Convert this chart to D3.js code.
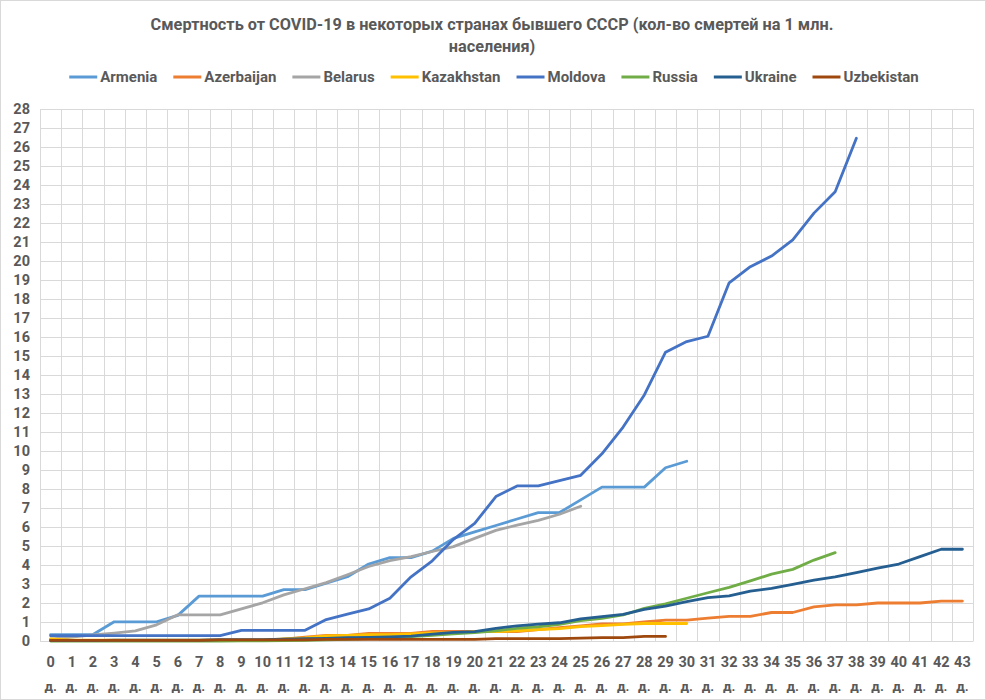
<!DOCTYPE html>
<html>
<head>
<meta charset="utf-8">
<script src="https://cdn.jsdelivr.net/npm/d3@7"></script>
<style>
  html, body { margin: 0; padding: 0; background: #fff; }
  svg { display: block; }
  text { font-family: Roboto, "Liberation Sans", sans-serif; }
</style>
</head>
<body>
<svg id="chart" width="986" height="700"></svg>
<script>
// ---------- data ----------
const titleLines = ["Смертность от COVID-19 в некоторых странах бывшего СССР (кол-во смертей на 1 млн.", "населения)"];
const categories = d3.range(0, 44).map(String);
const dayLabel = "д.";
const yTicks = d3.range(0, 29);

const seriesNames = ["Armenia", "Azerbaijan", "Belarus", "Kazakhstan", "Moldova", "Russia", "Ukraine", "Uzbekistan"];
const seriesColors = ["#5B9BD5", "#ED7D31", "#A5A5A5", "#FFC000", "#4472C4", "#70AD47", "#255E91", "#9E480E"];

const armenia = [0.34,0.34,0.34,1.01,1.01,1.01,1.35,2.36,2.36,2.36,2.36,2.7,2.7,3.04,3.38,4.05,4.39,4.39,4.73,5.4,5.74,6.08,6.42,6.76,6.76,7.43,8.1,8.1,8.1,9.12,9.46];
const azerbaijan = [0.1,0.02,0.02,0.02,0.02,0.02,0.02,0.02,0.02,0.02,0.02,0.1,0.2,0.3,0.3,0.4,0.4,0.4,0.5,0.5,0.5,0.5,0.5,0.6,0.7,0.8,0.9,0.9,1.0,1.1,1.1,1.2,1.3,1.3,1.5,1.5,1.8,1.9,1.9,2.0,2.0,2.0,2.1,2.1];
const belarus = [0.1,0.21,0.32,0.42,0.53,0.85,1.38,1.38,1.38,1.69,2.01,2.43,2.75,3.07,3.49,3.92,4.23,4.44,4.71,4.97,5.4,5.82,6.1,6.35,6.67,7.09];
const kazakhstan = [0.11,0.05,0.05,0.05,0.05,0.05,0.05,0.05,0.05,0.05,0.05,0.11,0.16,0.27,0.3,0.33,0.33,0.38,0.43,0.43,0.49,0.49,0.54,0.6,0.65,0.76,0.81,0.87,0.92,0.92,0.92];
const moldova = [0.28,0.28,0.28,0.28,0.28,0.28,0.28,0.28,0.28,0.56,0.56,0.56,0.56,1.13,1.41,1.69,2.25,3.38,4.22,5.35,6.19,7.6,8.16,8.16,8.44,8.72,9.85,11.26,12.95,15.2,15.76,16.04,18.85,19.7,20.26,21.11,22.52,23.65,26.46];
const russia = [0,0,0,0,0,0,0,0,0,0.01,0.01,0.02,0.03,0.06,0.09,0.12,0.17,0.23,0.3,0.37,0.44,0.54,0.67,0.75,0.88,1.07,1.19,1.37,1.72,1.95,2.25,2.54,2.82,3.16,3.52,3.77,4.26,4.65];
const ukraine = [0.02,0.02,0.02,0.05,0.05,0.05,0.05,0.05,0.07,0.07,0.07,0.1,0.12,0.14,0.17,0.19,0.22,0.26,0.36,0.45,0.49,0.67,0.8,0.89,0.96,1.16,1.28,1.4,1.67,1.84,2.07,2.28,2.37,2.63,2.77,2.98,3.2,3.38,3.6,3.83,4.05,4.44,4.83,4.83];
const uzbekistan = [0.03,0.03,0.03,0.03,0.03,0.03,0.03,0.03,0.06,0.06,0.06,0.06,0.06,0.09,0.09,0.09,0.09,0.09,0.09,0.09,0.09,0.12,0.12,0.12,0.12,0.15,0.18,0.18,0.24,0.24];

const seriesValues = [armenia, azerbaijan, belarus, kazakhstan, moldova, russia, ukraine, uzbekistan];

// ---------- layout ----------
const W = 986, H = 700;
const plot = { left: 40, right: 973, top: 109, bottom: 641 };
const textColor = "#595959";
const gridColor = "#D9D9D9";

const svg = d3.select("#chart");

svg.append("rect")
  .attr("x", 0.5).attr("y", 0.5)
  .attr("width", W - 1).attr("height", H - 1)
  .attr("fill", "#fff").attr("stroke", gridColor);

// title
const title = svg.append("text")
  .attr("text-anchor", "middle")
  .attr("fill", textColor)
  .attr("font-weight", "bold")
  .attr("font-size", 16.3);
titleLines.forEach((t, i) => {
  title.append("tspan").attr("x", W / 2 - 1).attr("y", 30 + i * 22).text(t);
});

// scales
const x = d3.scaleBand().domain(categories).range([plot.left, plot.right]).padding(0);
const y = d3.scaleLinear().domain([0, 28]).range([plot.bottom, plot.top]);
const cx = c => x(c) + x.bandwidth() / 2;

// y axis with gridlines
const yAxis = svg.append("g")
  .attr("transform", `translate(${plot.left},0)`)
  .call(d3.axisLeft(y).tickValues(yTicks).tickSize(-(plot.right - plot.left)).tickPadding(10).tickFormat(d3.format("d")));
yAxis.select(".domain").remove();
yAxis.selectAll(".tick line").attr("stroke", gridColor).attr("stroke-width", 1);
yAxis.selectAll(".tick text")
  .attr("fill", textColor).attr("font-weight", "bold").attr("font-size", 14.5)
  .attr("font-family", "Roboto, 'Liberation Sans', sans-serif");

// vertical gridlines at category boundaries
const boundaries = categories.map(c => x(c)).concat([x(categories[categories.length - 1]) + x.bandwidth()]);
svg.append("g").selectAll("line").data(boundaries).join("line")
  .attr("x1", d => Math.round(d) + 0.5).attr("x2", d => Math.round(d) + 0.5)
  .attr("y1", plot.top).attr("y2", plot.bottom)
  .attr("stroke", gridColor).attr("stroke-width", 1);

// x axis labels
const xAxis = svg.append("g")
  .attr("transform", `translate(0,${plot.bottom})`)
  .call(d3.axisBottom(x).tickSize(0).tickPadding(16));
xAxis.select(".domain").attr("stroke", gridColor);
xAxis.selectAll(".tick text")
  .attr("fill", textColor).attr("font-weight", "bold").attr("font-size", 14.5)
  .attr("font-family", "Roboto, 'Liberation Sans', sans-serif")
  .each(function(d) {
    const t = d3.select(this);
    t.text(null);
    t.append("tspan").attr("x", 0).attr("dy", "0.71em").text(d);
    t.append("tspan").attr("x", 0).attr("dy", "1.75em").attr("font-size", 13.5).text(dayLabel);
  });

// lines
const line = d3.line()
  .defined(d => d.v != null)
  .x(d => cx(d.c))
  .y(d => y(d.v));

const linesG = svg.append("g");
seriesNames.forEach((name, si) => {
  const data = seriesValues[si].map((v, i) => ({ c: categories[i], v }));
  linesG.append("path")
    .datum(data)
    .attr("d", line)
    .attr("fill", "none")
    .attr("stroke", seriesColors[si])
    .attr("stroke-width", 2.8)
    .attr("stroke-linejoin", "round")
    .attr("stroke-linecap", "round");
});

// legend
const legend = svg.append("g");
const markerW = 28, markerGap = 3, itemGap = 16;
let cursor = 0;
seriesNames.forEach((name, si) => {
  const g = legend.append("g");
  g.append("line")
    .attr("x1", 0).attr("x2", markerW).attr("y1", 0).attr("y2", 0)
    .attr("stroke", seriesColors[si]).attr("stroke-width", 3);
  const t = g.append("text")
    .attr("x", markerW + markerGap).attr("y", 5)
    .attr("fill", textColor).attr("font-weight", "bold").attr("font-size", 15)
    .text(name);
  const w = markerW + markerGap + t.node().getComputedTextLength();
  g.attr("transform", `translate(${cursor},0)`);
  cursor += w + itemGap;
});
const legendW = cursor - itemGap;
legend.attr("transform", `translate(${494 - legendW / 2},77)`);
</script>
</body>
</html>
